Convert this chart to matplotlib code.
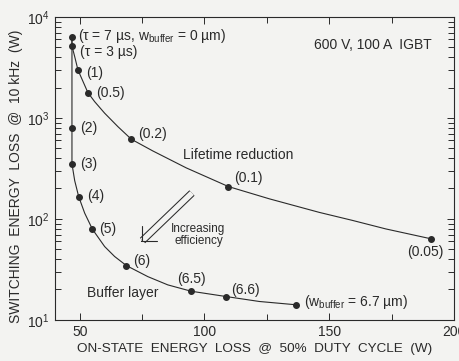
import matplotlib
matplotlib.use('Agg')
from matplotlib import pyplot
from matplotlib.ticker import MultipleLocator, LogLocator, NullFormatter

pyplot.rcParams['font.family'] = ['Liberation Sans', 'DejaVu Sans']
pyplot.rcParams['mathtext.fontset'] = 'custom'
pyplot.rcParams['mathtext.rm'] = 'Liberation Sans'
pyplot.rcParams['mathtext.it'] = 'Liberation Sans:italic'

# lifetime reduction curve
life_x = [46.9, 46.9, 48.0, 49.3, 53.3, 56.0, 60.0, 65.3, 70.7, 79.3, 92.7, 109.6,
          126.0, 146.0, 159.3, 172.7, 190.9]
life_y = [6383, 5164, 4046, 2985, 1778, 1449, 1114, 820, 615, 471, 320, 209,
          158, 116, 96.6, 79.5, 63.4]
# marked points on it
life_pt_x = [46.9, 49.3, 53.3, 70.7, 109.6, 190.9]
life_pt_y = [5164, 2985, 1778, 615, 209, 63.4]
life_labels = ['(τ = 3 µs)', '(1)', '(0.5)', '(0.2)', '(0.1)', '(0.05)']

# buffer layer curve
buf_x = [46.9, 46.9, 46.9, 48.0, 49.6, 52.0, 55.1, 60.0, 64.0, 68.7, 77.3, 85.3,
         94.7, 108.8, 122.0, 136.7]
buf_y = [6383, 802, 351, 239, 166, 114, 79, 53.2, 42.4, 34.5, 26.8, 22.2,
         19.2, 17.0, 15.2, 14.1]
buf_pt_x = [46.9, 46.9, 46.9, 49.6, 55.1, 68.7, 94.7, 108.8, 136.7]
buf_pt_y = [6383, 802, 351, 166, 79, 34.5, 19.2, 17.0, 14.1]
buf_labels = [r'(τ = 7 µs, w$_{\rm buffer}$ = 0 µm)', '(2)', '(3)', '(4)', '(5)', '(6)',
              '(6.5)', '(6.6)', r'(w$_{\rm buffer}$ = 6.7 µm)']

# label offsets in pixels
life_off = [(8, -6), (8, -3), (8, 0), (7, 5), (6, 9), (12, -13)]
life_ha = ['left', 'left', 'left', 'left', 'left', 'right']
buf_off = [(6, 1), (8, 0), (8, 0), (8, 1), (7, 0), (7, 5), (0, 12), (5, 7), (8, 3)]
buf_ha = ['left'] * 6 + ['center', 'left', 'left']

ink = '#2a2a2a'
bg = '#f3f3f1'
fs = 10

fig = pyplot.figure(figsize=(4.6, 3.61), dpi=100, facecolor=bg)
ax = fig.add_axes([0.119, 0.114, 0.868, 0.839], facecolor=bg)

ax.plot(life_x, life_y, color=ink, lw=0.8)
ax.plot(buf_x, buf_y, color=ink, lw=0.8)
ax.plot(life_pt_x, life_pt_y, 'o', color=ink, ms=4)
ax.plot(buf_pt_x, buf_pt_y, 'o', color=ink, ms=4)

for x, y, s, off, ha in zip(life_pt_x, life_pt_y, life_labels, life_off, life_ha):
    ax.annotate(s, (x, y), xytext=off, textcoords='offset pixels', ha=ha, va='center',
                fontsize=fs, color=ink)
for x, y, s, off, ha in zip(buf_pt_x, buf_pt_y, buf_labels, buf_off, buf_ha):
    ax.annotate(s, (x, y), xytext=off, textcoords='offset pixels', ha=ha, va='center',
                fontsize=fs, color=ink)

ax.text(0.32, 0.545, 'Lifetime reduction', transform=ax.transAxes, fontsize=fs,
        color=ink, va='center')
ax.text(0.08, 0.089, 'Buffer layer', transform=ax.transAxes, fontsize=fs,
        color=ink, va='center')
ax.text(0.945, 0.908, '600 V, 100 A  IGBT', transform=ax.transAxes, fontsize=fs,
        color=ink, va='center', ha='right')
ax.text(0.36, 0.28, 'Increasing\nefficiency', transform=ax.transAxes, fontsize=8.5,
        color=ink, va='center', ha='center', linespacing=1.0)

# double-line open arrow
tip = (0.216, 0.257)
ax.annotate('', xy=tip, xycoords='axes fraction', xytext=(51, 49), textcoords='offset pixels',
            arrowprops=dict(arrowstyle='-', lw=5.4, color=ink, shrinkA=0, shrinkB=1.5,
                            capstyle='butt'))
ax.annotate('', xy=tip, xycoords='axes fraction', xytext=(51, 49), textcoords='offset pixels',
            arrowprops=dict(arrowstyle='-', lw=3.9, color=bg, shrinkA=0, shrinkB=1.5,
                            capstyle='butt'))
ax.annotate('', xy=tip, xycoords='axes fraction', xytext=(1, 1), textcoords='offset pixels',
            arrowprops=dict(arrowstyle='->,head_length=0.8,head_width=0.8', lw=0.8,
                            color=ink, shrinkA=0, shrinkB=0, mutation_scale=10))

ax.set_yscale('log')
ax.set_xlim(40, 200)
ax.set_ylim(10, 1e4)
ax.xaxis.set_major_locator(MultipleLocator(50))
ax.xaxis.set_minor_locator(MultipleLocator(25))
ax.yaxis.set_major_locator(LogLocator(base=10))
ax.yaxis.set_minor_locator(LogLocator(base=10, subs=range(2, 10)))
ax.yaxis.set_minor_formatter(NullFormatter())
ax.tick_params(which='both', direction='in', top=True, right=True, colors=ink,
               labelsize=fs, width=0.7)
ax.tick_params(which='major', length=5)
ax.tick_params(which='minor', length=4)
for sp in ax.spines.values():
    sp.set_color(ink)
    sp.set_linewidth(0.8)

ax.set_xlabel('ON-STATE  ENERGY  LOSS  @  50%  DUTY  CYCLE  (W)', fontsize=9.7, color=ink)
ax.set_ylabel('SWITCHING  ENERGY  LOSS  @  10 kHz  (W)', fontsize=fs, color=ink)
ax.xaxis.set_label_coords(0.5, -0.078)
ax.yaxis.set_label_coords(-0.08, 0.474)

pyplot.savefig('out.png', dpi=100, facecolor=bg)
